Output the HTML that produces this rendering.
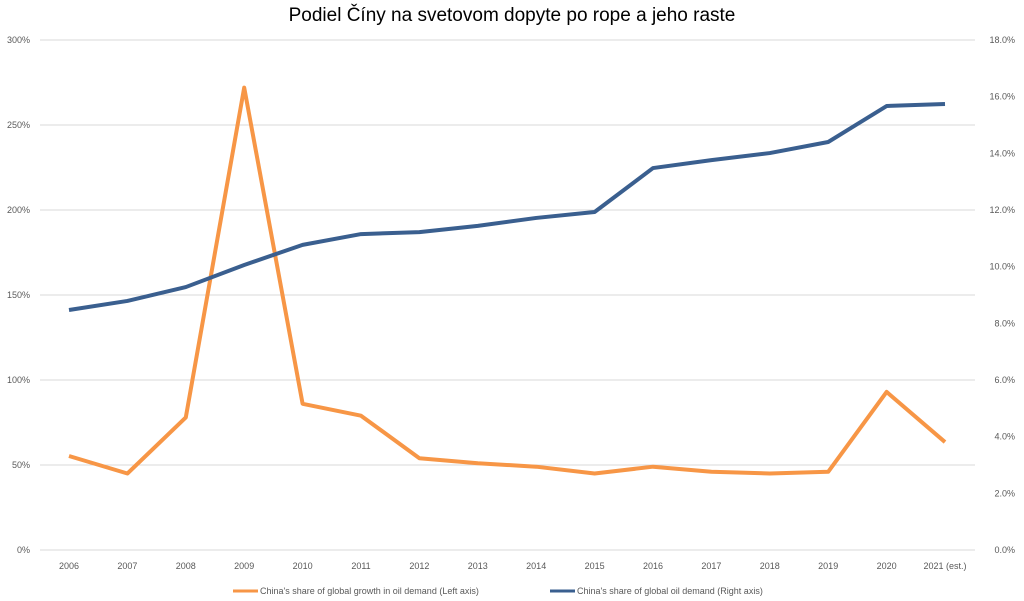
<!DOCTYPE html>
<html><head><meta charset="utf-8"><style>
body{margin:0;background:#fff;}
svg{display:block;font-family:"Liberation Sans",sans-serif;}
</style></head><body>
<svg id="chart" width="1024" height="601">
<text x="512" y="21" text-anchor="middle" font-size="19" fill="#000">Podiel Číny na svetovom dopyte po rope a jeho raste</text>
<g id="grid"></g><g id="axes"></g><g id="series"></g>
<g>
<line x1="233" y1="591" x2="258" y2="591" stroke="#F79646" stroke-width="3"/>
<text x="260" y="594" font-size="9" fill="#595959">China's share of global growth in oil demand (Left axis)</text>
<line x1="550" y1="591" x2="575" y2="591" stroke="#3A5F8F" stroke-width="3"/>
<text x="577" y="594" font-size="9" fill="#595959">China's share of global oil demand (Right axis)</text>
</g>
</svg>
<script>
const categories=["2006","2007","2008","2009","2010","2011","2012","2013","2014","2015","2016","2017","2018","2019","2020","2021 (est.)"];
const growthShare=[55.3,45,78,272,86,79,54,51,49,45,49,46,45,46,93,63.5];
const demandShare=[8.47,8.79,9.28,10.06,10.77,11.15,11.22,11.44,11.72,11.93,13.48,13.76,14.01,14.4,15.67,15.74];
const leftTicks=[0,50,100,150,200,250,300];
const rightTicks=[0,2,4,6,8,10,12,14,16,18];
const NS="http://www.w3.org/2000/svg";
const x0=69,x1=945,plotTop=40,plotBot=550,plotL=40,plotR=975;
const xs=i=>x0+(x1-x0)*i/(categories.length-1);
const yL=v=>plotBot-(plotBot-plotTop)*v/300;
const yR=v=>plotBot-(plotBot-plotTop)*v/18;
function mk(tag,attrs,parent){const e=document.createElementNS(NS,tag);for(const k in attrs)e.setAttribute(k,attrs[k]);parent.appendChild(e);return e;}
const grid=document.getElementById('grid'),axes=document.getElementById('axes'),series=document.getElementById('series');
leftTicks.forEach(v=>{
 const l=mk('line',{x1:plotL,x2:plotR,y1:yL(v),y2:yL(v),stroke:'#d9d9d9','stroke-width':1},grid);
 
 
 const t=mk('text',{x:30,y:yL(v)+3,'text-anchor':'end','font-size':9,fill:'#595959'},axes);
 t.textContent=v+'%';
 
 
});
rightTicks.forEach(v=>{
 const t=mk('text',{x:1015,y:yR(v)+3,'text-anchor':'end','font-size':9,fill:'#595959'},axes);
 t.textContent=v.toFixed(1)+'%';
 
 
});
categories.forEach((c,i)=>{
 const t=mk('text',{x:xs(i),y:569,'text-anchor':'middle','font-size':9,fill:'#595959'},axes);
 t.textContent=c;
 
 
});
const p1=mk('polyline',{points:growthShare.map((v,i)=>xs(i)+','+yL(v)).join(' '),fill:'none',stroke:'#F79646','stroke-width':4,'stroke-linejoin':'round'},series);


const p2=mk('polyline',{points:demandShare.map((v,i)=>xs(i)+','+yR(v)).join(' '),fill:'none',stroke:'#3A5F8F','stroke-width':4,'stroke-linejoin':'round'},series);


</script>
</body></html>
